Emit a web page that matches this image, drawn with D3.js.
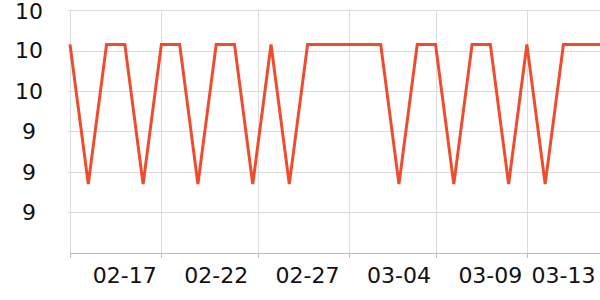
<!DOCTYPE html>
<html>
<head>
<meta charset="utf-8">
<script src="https://d3js.org/d3.v7.min.js"></script>
<style>
  body { margin: 0; background: #fff; }
  text { font-family: "DejaVu Sans", sans-serif; }
</style>
</head>
<body>
<div id="main"></div>
<script>
// daily values, 2023-02-14 .. 2023-03-15
const dates = ["2023-02-14","2023-02-15","2023-02-16","2023-02-17","2023-02-18","2023-02-19",
    "2023-02-20","2023-02-21","2023-02-22","2023-02-23","2023-02-24","2023-02-25",
    "2023-02-26","2023-02-27","2023-02-28","2023-03-01","2023-03-02","2023-03-03",
    "2023-03-04","2023-03-05","2023-03-06","2023-03-07","2023-03-08","2023-03-09",
    "2023-03-10","2023-03-11","2023-03-12","2023-03-13","2023-03-14","2023-03-15"];
const values = [10.23, 9.54, 10.23, 10.23, 9.54, 10.23, 10.23, 9.54, 10.23, 10.23,
    9.54, 10.23, 9.54, 10.23, 10.23, 10.23, 10.23, 10.23, 9.54, 10.23,
    10.23, 9.54, 10.23, 10.23, 9.54, 10.23, 9.54, 10.23, 10.23, 10.23];
const yTicks = [9.4, 9.6, 9.8, 10.0, 10.2, 10.4];
const xLabels = ["2023-02-17","2023-02-22","2023-02-27","2023-03-04","2023-03-09","2023-03-13"];
const xSplits = ["2023-02-14T00:00","2023-02-19T00:00","2023-02-24T07:00","2023-03-01T06:30","2023-03-06T00:00","2023-03-11T00:00"];

const width = 600, height = 300;
const margin = { top: 10, right: 0, bottom: 47, left: 70 };
const x0 = margin.left, x1 = width - margin.right,
    yTop = margin.top, yBottom = height - margin.bottom;

const parse = d3.isoParse;
const data = dates.map((d, i) => ({ date: parse(d), value: values[i] }));

const svg = d3.select('#main')
    .append('svg')
    .attr('width', width)
    .attr('height', height);

const x = d3.scaleTime()
    .domain(d3.extent(data, d => d.date))
    .range([x0, x1]);

const y = d3.scaleLinear()
    .domain([9.2, 10.4])
    .range([yBottom, yTop]);

// horizontal grid
svg.append('g')
    .selectAll('line')
    .data(yTicks)
    .enter()
    .append('line')
    .attr('x1', x0 - 2)
    .attr('x2', x1)
    .attr('y1', d => Math.round(y(d)) + 0.5)
    .attr('y2', d => Math.round(y(d)) + 0.5)
    .style('stroke', '#dcdcdc');

// vertical grid
svg.append('g')
    .selectAll('line')
    .data(xSplits.map(parse))
    .enter()
    .append('line')
    .attr('x1', d => Math.round(x(d)) + 0.5)
    .attr('x2', d => Math.round(x(d)) + 0.5)
    .attr('y1', yTop)
    .attr('y2', yBottom)
    .style('stroke', '#dcdcdc');

// x axis line + ticks
svg.append('line')
    .attr('x1', x0)
    .attr('x2', x1)
    .attr('y1', yBottom + 0.5)
    .attr('y2', yBottom + 0.5)
    .style('stroke', '#bbb');

svg.append('g')
    .selectAll('line')
    .data(xSplits.map(parse))
    .enter()
    .append('line')
    .attr('x1', d => Math.round(x(d)) + 0.5)
    .attr('x2', d => Math.round(x(d)) + 0.5)
    .attr('y1', yBottom)
    .attr('y2', yBottom + 5)
    .style('stroke', '#bbb');

// y labels (truncated like the original); keep the top one inside the page
svg.append('g')
    .selectAll('text')
    .data(yTicks)
    .enter()
    .append('text')
    .attr('x', 29)
    .attr('y', d => Math.max(y(d), 11.5))
    .attr('dy', '0.36em')
    .attr('text-anchor', 'middle')
    .style('font-size', '22px')
    .style('fill', '#111')
    .text(d => Math.floor(d + 1e-9));

// x labels
svg.append('g')
    .selectAll('text')
    .data(xLabels.map(parse))
    .enter()
    .append('text')
    .attr('x', d => x(d))
    .attr('y', 283)
    .attr('text-anchor', 'middle')
    .style('font-size', '22px')
    .style('fill', '#111')
    .text(d3.timeFormat('%m-%d'));

// the line
const line = d3.line()
    .x(d => x(d.date))
    .y(d => y(d.value));

svg.append('path')
    .datum(data)
    .attr('d', line)
    .attr('fill', 'none')
    .style('stroke', '#ef4b2d')
    .style('stroke-width', 3)
    .style('stroke-linejoin', 'miter');
</script>
</body>
</html>
